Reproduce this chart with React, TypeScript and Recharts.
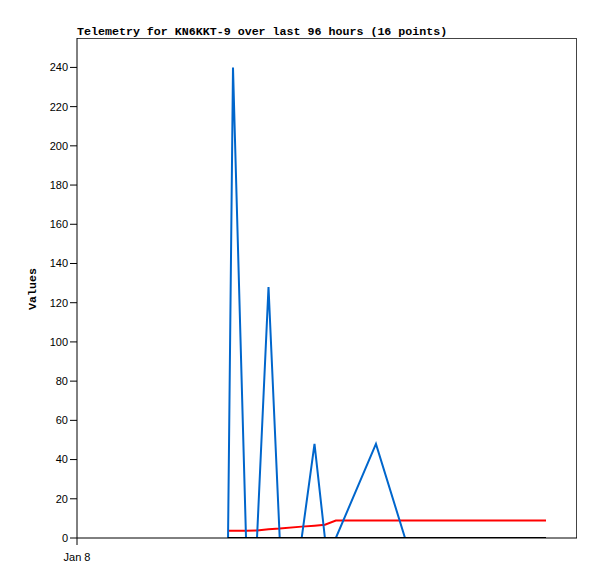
import { LineChart, Line, XAxis, YAxis } from 'recharts';

// hours since Jan 8 00:00
const hours = [29.0, 29.95, 32.45, 34.56, 36.77, 38.92, 43.14, 45.6, 47.6, 49.7, 57.4, 62.98, 90.05];
const blueValues = [0, 240, 0, 0, 128, 0, 0, 48, 0, 0, 48, 0, 0];
const redValues = [3.7, 3.7, 3.7, 3.8, 4.5, 4.8, 5.8, 6.3, 6.8, 8.9, 8.9, 8.9, 8.9];
const blackValues = [0, 0, 0, 0, 0, 0, 0, 0, 0, 0, 0, 0, 0];
const yTicks = [0, 20, 40, 60, 80, 100, 120, 140, 160, 180, 200, 220, 240];
const xTicks = [0];
const xTickLabels = ['Jan 8'];

const data = hours.map((h, i) => ({
  t: h,
  blue: blueValues[i],
  red: redValues[i],
  black: blackValues[i],
}));

const mono = '"Liberation Mono", "DejaVu Sans Mono", monospace';
const sans = '"Liberation Sans", Arial, sans-serif';

const App = () => {
  return (
    <div style={{ position: 'absolute', left: 0, top: 0, width: 597, height: 579, background: '#fff' }}>
      <div
        style={{
          position: 'absolute',
          left: 77,
          top: 25.5,
          fontFamily: mono,
          fontWeight: 'bold',
          fontSize: 11.65,
          lineHeight: '12px',
          color: '#000',
          whiteSpace: 'nowrap',
        }}
      >
        Telemetry for KN6KKT-9 over last 96 hours (16 points)
      </div>
      {/* frame: top and right edges of the plot area */}
      <div
        style={{
          position: 'absolute',
          left: 77,
          top: 38,
          width: 500,
          height: 500,
          borderTop: '1px solid #444',
          borderRight: '1px solid #444',
          boxSizing: 'border-box',
          pointerEvents: 'none',
        }}
      />
      <LineChart width={597} height={579} data={data} margin={{ top: 38, right: 20, bottom: 0, left: 0 }}>
        <XAxis
          dataKey="t"
          type="number"
          domain={[0, 96]}
          ticks={xTicks}
          tickFormatter={(v: number) => xTickLabels[xTicks.indexOf(v)] ?? ''}
          height={41}
          stroke="#000"
          tickLine={{ stroke: '#000' }}
          tickSize={7}
          tickMargin={8}
          tick={{ fill: '#000', fontFamily: sans, fontSize: 11 }}
          allowDataOverflow
        />
        <YAxis
          type="number"
          domain={[0, 255]}
          ticks={yTicks}
          width={77}
          stroke="#000"
          tickSize={7}
          tickLine={{ stroke: '#000' }}
          tick={{ fill: '#000', fontFamily: sans, fontSize: 11 }}
          allowDataOverflow
          label={{
            content: () => (
              <text
                x={36}
                y={289}
                transform="rotate(-90 36 289)"
                textAnchor="middle"
                fontFamily={mono}
                fontWeight="bold"
                fontSize={11.65}
                fill="#000"
              >
                Values
              </text>
            ),
          }}
        />
        <Line type="linear" dataKey="red" stroke="#ff0000" strokeWidth={2} dot={false} isAnimationActive={false} />
        <Line type="linear" dataKey="blue" stroke="#0066cc" strokeWidth={2} dot={false} isAnimationActive={false} />
        <Line type="linear" dataKey="black" stroke="#000000" strokeWidth={2} dot={false} isAnimationActive={false} />
      </LineChart>
    </div>
  );
};

export default App;
